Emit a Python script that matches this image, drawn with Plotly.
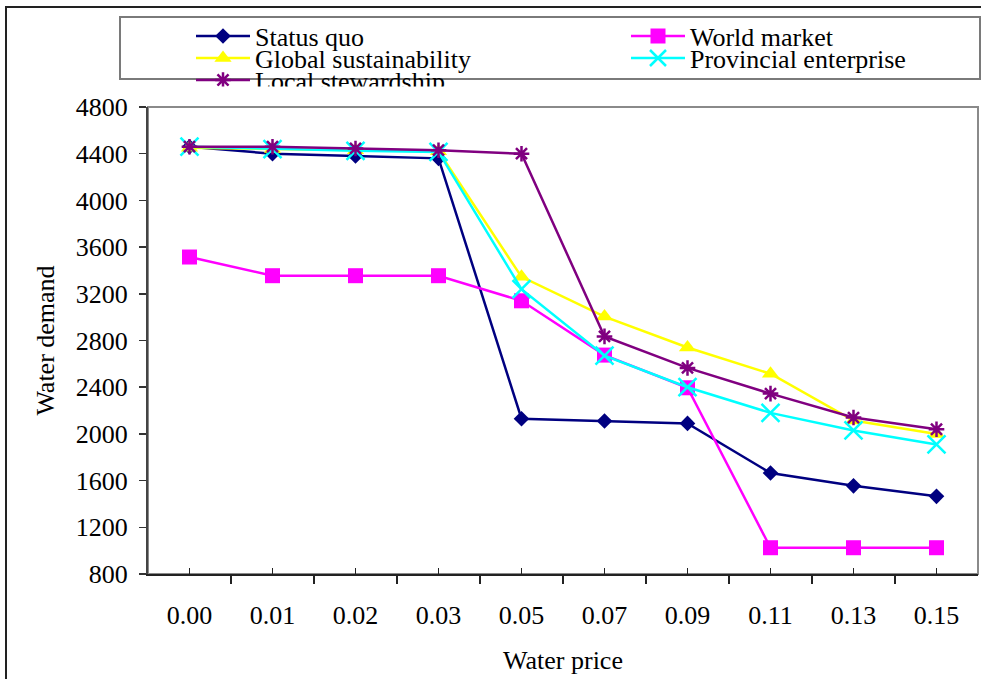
import plotly.graph_objects as go

# ---------------- data ----------------
categories = ["0.00", "0.01", "0.02", "0.03", "0.05", "0.07", "0.09", "0.11", "0.13", "0.15"]
status_quo = [4460, 4400, 4380, 4360, 2130, 2110, 2090, 1665, 1555, 1465]
world_market = [3515, 3355, 3355, 3355, 3140, 2675, 2395, 1025, 1025, 1025]
global_sustainability = [4450, 4440, 4430, 4420, 3345, 3005, 2740, 2515, 2115, 2000]
provincial_enterprise = [4460, 4440, 4425, 4415, 3240, 2670, 2400, 2180, 2030, 1910]
local_stewardship = [4460, 4460, 4445, 4430, 4400, 2835, 2565, 2345, 2140, 2040]
y_ticks = [800, 1200, 1600, 2000, 2400, 2800, 3200, 3600, 4000, 4400, 4800]

# category positions on the x axis (one slot per price category)
positions = list(range(len(categories)))
boundaries = [p - 0.5 for p in positions] + [positions[-1] + 0.5]

# ---------------- geometry ----------------
W, H = 981, 679
L, R, T, B = 148, 3, 107, 105
PW, PH = W - L - R, H - T - B
FONT = "Liberation Serif, Times New Roman, serif"
FS = 26


def px(x):
    return (x - L) / PW


def py(y):
    return (H - B - y) / PH


ENTRY_OFF = 23.4  # legend top -> first entry centre (px)

series = [
    ("Status quo", status_quo, "#000080", "diamond", 12, 0, "legend", 191, 36),
    ("World market", world_market, "#FF00FF", "square", 15, 0, "legend2", 626, 36),
    ("Global sustainability", global_sustainability, "#FFFF00", "triangle-up", 15, 0, "legend3", 191, 58),
    ("Provincial enterprise", provincial_enterprise, "#00FFFF", "x-thin-open", 18, 2.5, "legend4", 626, 58),
    ("Local stewardship", local_stewardship, "#800080", "asterisk-open", 13, 2.5, "legend5", 191, 80),
]

fig = go.Figure()
legends = {}
for name, vals, color, sym, size, mlw, leg, lx, ly_c in series:
    fig.add_trace(go.Scatter(
        x=positions, y=vals, name=name, mode="lines+markers",
        customdata=categories,
        line=dict(color=color, width=2.5),
        marker=dict(symbol=sym, size=size, color=color,
                    line=dict(color=color, width=mlw)),
        legend=leg, cliponaxis=False,
    ))
    ly = ly_c - ENTRY_OFF
    ld = dict(
        orientation="h", x=px(lx), y=1 + (T - ly) / PH,
        xanchor="left", yanchor="top",
        bgcolor="rgba(0,0,0,0)", borderwidth=0,
        font=dict(family=FONT, size=FS, color="black"),
        itemwidth=54,
    )
    if leg == "legend5":
        ld["maxheight"] = 26
    legends[leg] = ld

fig.update_layout(
    width=W, height=H,
    margin=dict(l=L, r=R, t=T, b=B, autoexpand=False),
    paper_bgcolor="white", plot_bgcolor="white",
    font=dict(family=FONT, size=FS, color="black"),
    xaxis=dict(
        type="linear", range=[boundaries[0], boundaries[-1]],
        tickmode="array", tickvals=positions, ticktext=categories,
        ticks="inside", ticklen=6, tickwidth=1.5, tickcolor="#222",
        minor=dict(tickmode="array", tickvals=boundaries, ticks="outside",
                   ticklen=8, tickwidth=1.5, tickcolor="#222", showgrid=False),
        showline=True, linecolor="#222", linewidth=2,
        showgrid=False, zeroline=False,
        tickfont=dict(family=FONT, size=FS, color="black"),
        ticklabelstandoff=17,
        title=dict(text="Water price", font=dict(family=FONT, size=FS, color="black"), standoff=22),
    ),
    yaxis=dict(
        range=[800, 4800], tickmode="array", tickvals=y_ticks,
        ticks="outside", ticklen=7, tickwidth=1.5, tickcolor="#333",
        showline=True, linecolor="#444", linewidth=2,
        showgrid=False, zeroline=False,
        tickfont=dict(family=FONT, size=FS, color="black"),
        ticklabelstandoff=6,
        title=dict(text="Water demand", font=dict(family=FONT, size=FS, color="black"), standoff=14),
    ),
    showlegend=True,
    shapes=[
        # plot-area frame
        dict(type="rect", xref="paper", yref="paper", x0=0, x1=1, y0=0, y1=1,
             line=dict(color="#8a8a8a", width=2), layer="below"),
        # legend box
        dict(type="rect", xref="paper", yref="paper", x0=px(120), x1=px(980), y0=py(79), y1=py(17),
             line=dict(color="#7a7a7a", width=2), layer="below"),
        # outer chart frame (top + left)
        dict(type="path", xref="paper", yref="paper",
             path=f"M {px(6)} {py(720)} L {px(6)} {py(7)} L {px(1000)} {py(7)}",
             line=dict(color="#222", width=2)),
    ],
    **legends,
)

fig.write_html(
    "out.html",
    config={"staticPlot": True},
    post_script="document.body.style.margin='0';document.body.style.overflow='hidden';",
)
